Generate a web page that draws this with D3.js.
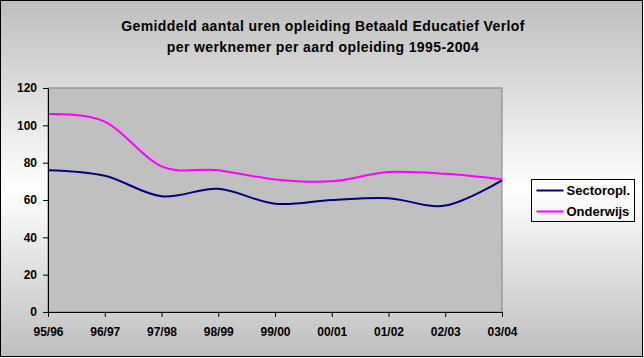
<!DOCTYPE html>
<html>
<head>
<meta charset="utf-8">
<script src="https://cdn.jsdelivr.net/npm/d3@7"></script>
<style>
  html, body { margin: 0; padding: 0; background: #fff; }
  svg { display: block; font-family: "Liberation Sans", Arial, sans-serif; font-weight: bold; }
</style>
</head>
<body>
<div id="chart-container"></div>
<script>
// data
const categories = ["95/96", "96/97", "97/98", "98/99", "99/00", "00/01", "01/02", "02/03", "03/04"];
const sectoropl = [76, 73, 62, 66, 58, 60, 61, 57, 70.5];
const onderwijs = [106, 102, 78, 76, 71, 70, 75, 74, 71];
const yTicks = [0, 20, 40, 60, 80, 100, 120];
const titleLines = [
  "Gemiddeld aantal uren opleiding Betaald Educatief Verlof",
  "per werknemer per aard opleiding 1995-2004"
];

const series = [
  { name: "Sectoropl.", values: sectoropl, color: "#000080" },
  { name: "Onderwijs", values: onderwijs, color: "#ff00ff" }
];

const width = 644, height = 358;
const marginTop = 88, marginBottom = 46, marginLeft = 48, marginRight = 142;

const svg = d3.select("#chart-container")
  .append("svg")
  .attr("width", width)
  .attr("height", height);

// achtergrond: grijs boven/onder, wit in het midden
const defs = svg.append("defs");
const grad = defs.append("linearGradient")
  .attr("id", "bg").attr("x1", 0).attr("y1", 0).attr("x2", 0).attr("y2", 1);
grad.append("stop").attr("offset", "0%").attr("stop-color", "#bebebe");
grad.append("stop").attr("offset", "53%").attr("stop-color", "#ffffff");
grad.append("stop").attr("offset", "100%").attr("stop-color", "#bebebe");

svg.append("rect")
  .attr("x", 0.5).attr("y", 0.5)
  .attr("width", width - 2).attr("height", height - 2)
  .attr("fill", "url(#bg)")
  .attr("stroke", "#000");

// titel
svg.append("g")
  .selectAll("text")
  .data(titleLines)
  .join("text")
  .attr("x", 323)
  .attr("y", (d, i) => 31 + i * 21)
  .attr("text-anchor", "middle")
  .attr("font-size", 14)
  .attr("letter-spacing", 0.4)
  .attr("fill", "#000")
  .text(d => d);

// schalen
const xScale = d3.scalePoint()
  .domain(categories)
  .range([marginLeft, width - marginRight]);

const yScale = d3.scaleLinear()
  .domain([0, 120])
  .range([height - marginBottom, marginTop]);

// plotgebied
svg.append("rect")
  .attr("x", marginLeft)
  .attr("y", marginTop)
  .attr("width", width - marginRight - marginLeft)
  .attr("height", height - marginBottom - marginTop)
  .attr("fill", "#c0c0c0")
  .attr("stroke", "#808080");

// lijnen
const line = d3.line()
  .x((d, i) => xScale(categories[i]))
  .y(d => yScale(d))
  .curve(d3.curveCardinal);

svg.append("g")
  .selectAll("path")
  .data(series)
  .join("path")
  .attr("d", d => line(d.values))
  .attr("fill", "none")
  .attr("stroke", d => d.color)
  .attr("stroke-width", 2);

// assen
const xAxis = svg.append("g")
  .attr("transform", `translate(0, ${height - marginBottom})`)
  .call(d3.axisBottom(xScale).tickSize(5).tickPadding(10).tickSizeOuter(0));

const yAxis = svg.append("g")
  .attr("transform", `translate(${marginLeft}, 0)`)
  .call(d3.axisLeft(yScale).tickValues(yTicks).tickSize(5).tickPadding(6).tickSizeOuter(0));

[xAxis, yAxis].forEach(ax => {
  ax.select(".domain").attr("stroke", "#000");
  ax.selectAll(".tick line").attr("stroke", "#000");
  ax.selectAll("text")
    .attr("font-size", 12)
    .attr("font-family", "Liberation Sans, Arial, sans-serif")
    .attr("font-weight", "bold")
    .attr("fill", "#000");
});

// legenda
const legend = svg.append("g").attr("transform", "translate(531.5, 179.5)");
legend.append("rect")
  .attr("width", 103).attr("height", 42)
  .attr("fill", "none")
  .attr("stroke", "#000");

const items = legend.selectAll("g.item")
  .data(series)
  .join("g")
  .attr("class", "item")
  .attr("transform", (d, i) => `translate(0, ${11 + i * 21})`);

items.append("line")
  .attr("x1", 5).attr("x2", 32)
  .attr("stroke", d => d.color)
  .attr("stroke-width", 2);

items.append("text")
  .attr("x", 35)
  .attr("dy", "0.35em")
  .attr("font-size", 13)
  .attr("fill", "#000")
  .text(d => d.name);
</script>
</body>
</html>
